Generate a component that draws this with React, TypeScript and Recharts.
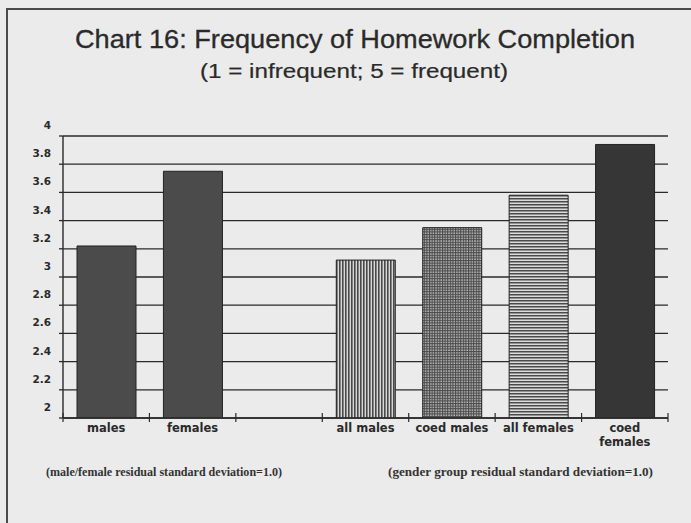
import React from 'react';
import { BarChart, Bar, XAxis, YAxis, CartesianGrid, Cell, Text } from 'recharts';

const categories = ['males', 'females', '', 'all males', 'coed males', 'all females', 'coed females'];
const scores = [3.22, 3.75, null, 3.12, 3.35, 3.58, 3.94];
const yTicks = [2, 2.2, 2.4, 2.6, 2.8, 3, 3.2, 3.4, 3.6, 3.8, 4];
const footnotes = [
  '(male/female residual standard deviation=1.0)',
  '(gender group residual standard deviation=1.0)',
];

const data = categories.map((name, i) => ({ name, score: scores[i] }));

// fills per bar: solid greys for the plain groups, hatching for the others
const fills = ['#4b4b4b', '#4b4b4b', 'none', 'url(#vstripe)', 'url(#crosshatch)', 'url(#hstripe)', '#363636'];

const W = 691;
const H = 523;
const BG = '#ebebeb';
const INK = '#2a2a2a';
const tickFont = '"DejaVu Sans", sans-serif';

const YTick = (props: any) => {
  const { x, y, payload } = props;
  return (
    <text x={x} y={y - 7} textAnchor="end" fontFamily={tickFont} fontWeight="bold" fontSize={10.5} fill={INK}>
      {payload.value}
    </text>
  );
};

const XTick = (props: any) => {
  const { x, y, payload, index } = props;
  const half = payload.offset ?? 43.3;
  const axisY = y - 6;
  const last = index === categories.length - 1;
  return (
    <g>
      <line x1={x - half} x2={x - half} y1={axisY - 5} y2={axisY + 4} stroke={INK} strokeWidth={1.2} />
      {last && <line x1={x + half} x2={x + half} y1={axisY - 5} y2={axisY + 4} stroke={INK} strokeWidth={1.2} />}
      <Text
        x={x}
        y={y}
        width={80}
        textAnchor="middle"
        verticalAnchor="start"
        lineHeight={14}
        fontFamily={tickFont}
        fontWeight="bold"
        fontSize={11.5}
        fill={INK}
      >
        {payload.value}
      </Text>
    </g>
  );
};

export default function App() {
  return (
    <div style={{ position: 'absolute', left: 0, top: 0, width: W, height: H, background: BG, overflow: 'hidden' }}>
      <svg width={0} height={0} style={{ position: 'absolute' }}>
        <defs>
          <pattern id="vstripe" width={3} height={3} patternUnits="userSpaceOnUse">
            <rect width={3} height={3} fill="#d8d8d8" />
            <rect width={1.6} height={3} fill="#4a4a4a" />
          </pattern>
          <pattern id="hstripe" width={3} height={3} patternUnits="userSpaceOnUse">
            <rect width={3} height={3} fill="#dcdcdc" />
            <rect width={3} height={1.5} fill="#4a4a4a" />
          </pattern>
          <pattern id="crosshatch" width={2.6} height={2.6} patternUnits="userSpaceOnUse">
            <rect width={2.6} height={2.6} fill="#bdbdbd" />
            <rect width={1.1} height={2.6} fill="#4a4a4a" />
            <rect width={2.6} height={1.1} fill="#4a4a4a" />
          </pattern>
        </defs>
      </svg>

      <BarChart
        width={W}
        height={H}
        data={data}
        margin={{ top: 136, right: 23, bottom: 65, left: 8 }}
        barSize={59}
      >
        <CartesianGrid horizontal vertical={false} stroke={INK} strokeWidth={1.3} />
        <XAxis
          dataKey="name"
          height={40}
          tickLine={false}
          tickSize={0}
          tickMargin={6}
          interval={0}
          axisLine={{ stroke: INK, strokeWidth: 1.4 }}
          tick={<XTick />}
        />
        <YAxis
          width={55}
          domain={[2, 4]}
          ticks={yTicks}
          allowDataOverflow
          tickSize={4}
          tickMargin={8}
          tickLine={{ stroke: INK, strokeWidth: 1.3 }}
          axisLine={{ stroke: INK, strokeWidth: 1.4 }}
          tick={<YTick />}
        />
        <Bar dataKey="score" stroke="#222" strokeWidth={1} isAnimationActive={false}>
          {data.map((d, i) => (
            <Cell key={d.name + i} fill={fills[i]} />
          ))}
        </Bar>
      </BarChart>

      <svg width={W} height={H} style={{ position: 'absolute', left: 0, top: 0, pointerEvents: 'none' }}>
        <path d={`M7,${H} V9 H${W}`} fill="none" stroke="#4a4a4a" strokeWidth={2} />
        <text
          x={75}
          y={48}
          textLength={560}
          lengthAdjust="spacingAndGlyphs"
          fontFamily='"Liberation Sans", Arial, sans-serif'
          fontSize={25}
          fill="#2a2a2a"
          stroke="#2a2a2a"
          strokeWidth={0.3}
        >
          Chart 16: Frequency of Homework Completion
        </text>
        <text
          x={200}
          y={78}
          textLength={308}
          lengthAdjust="spacingAndGlyphs"
          fontFamily='"Liberation Sans", Arial, sans-serif'
          fontSize={20}
          fill="#2a2a2a"
          stroke="#2a2a2a"
          strokeWidth={0.2}
        >
          (1 = infrequent; 5 = frequent)
        </text>
        <text x={46} y={476} textLength={236} lengthAdjust="spacingAndGlyphs" fontFamily='"Liberation Serif", serif' fontWeight="bold" fontSize={11.5} fill="#333">
          {footnotes[0]}
        </text>
        <text x={388} y={476} textLength={265} lengthAdjust="spacingAndGlyphs" fontFamily='"Liberation Serif", serif' fontWeight="bold" fontSize={11.5} fill="#333">
          {footnotes[1]}
        </text>
      </svg>
    </div>
  );
}
